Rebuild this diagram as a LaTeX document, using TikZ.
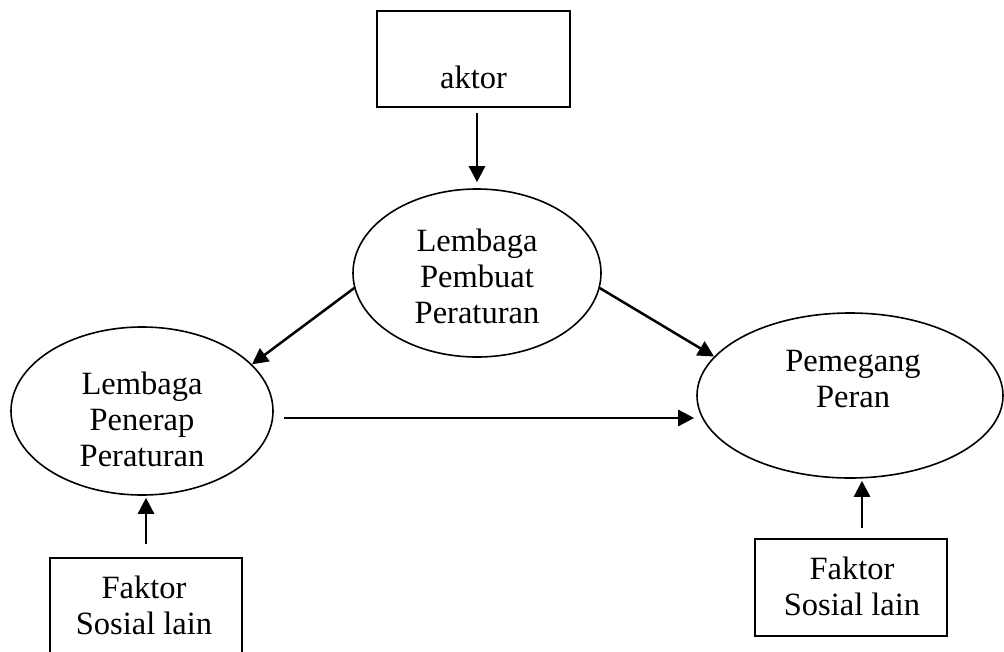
\documentclass[tikz,border=0pt]{standalone}
\usepackage{fontspec}
\setmainfont{Liberation Serif}
\usetikzlibrary{shapes.geometric,arrows.meta}
\begin{document}
\begin{tikzpicture}[x=1pt,y=-1pt,
  box/.style={draw,line width=1.9pt,inner sep=0pt,rectangle},
  oval/.style={draw,ellipse,line width=1.6pt,inner sep=0pt},
  lbl/.style={font=\fontsize{32.5}{36}\selectfont,align=center,inner sep=0pt},
  arr/.style={line width=2.5pt,-{Triangle[length=16pt,width=16pt]}}]
\useasboundingbox (0,0) rectangle (1004,651);
% boxes and ellipses
\node[box,minimum width=193pt,minimum height=96pt] (A) at (473.5,59) {};
\node[lbl,anchor=base] (At) at (473.5,88) {aktor};
\node[oval,minimum width=248pt,minimum height=168pt] (M) at (477,273) {};
\node[lbl] (Mt) at (477,276) {Lembaga\\Pembuat\\Peraturan};
\node[oval,minimum width=262pt,minimum height=168pt] (L) at (142,411) {};
\node[lbl] (Lt) at (142,419) {Lembaga\\Penerap\\Peraturan};
\node[oval,minimum width=306pt,minimum height=165pt] (R) at (850,395.5) {};
\node[lbl] (Rt) at (853,379) {Pemegang\\Peran};
\node[box,minimum width=192pt,minimum height=96pt] (BL) at (146,606) {};
\node[lbl] (BLt) at (144,605) {Faktor\\Sosial lain};
\node[box,minimum width=192pt,minimum height=97pt] (BR) at (851,587.5) {};
\node[lbl] (BRt) at (852,586) {Faktor\\Sosial lain};
% connectors
\draw[arr,shorten <=5pt,shorten >=6pt] (A.south -| M.north) -- (M.north);
\draw[arr] (M.187.8) -- (L.23.8);
\draw[arr] (M.-7.9) -- (R.164.6);
\coordinate (h1) at ([yshift=-7pt]L.east);
\coordinate (h2) at (h1 -| R.west);
\draw[arr,shorten <=10pt,shorten >=2pt] (h1) -- (h2);
\draw[arr,shorten <=13pt,shorten >=2pt] (BL.north) -- (BL.north |- L.south);
\coordinate (b2) at ([xshift=11pt]BR.north);
\draw[arr,shorten <=10pt,shorten >=2pt] (b2) -- (b2 |- R.south);
\end{tikzpicture}
\end{document}
